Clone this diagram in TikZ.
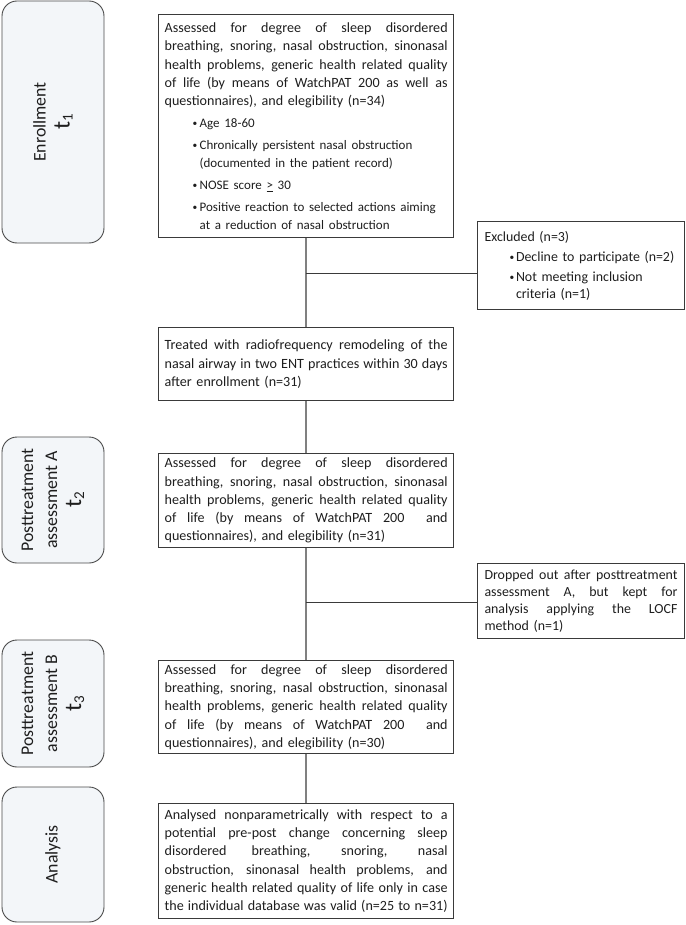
\documentclass[tikz,border=0pt]{standalone}
\usepackage{fontspec}
\setmainfont{Carlito}
\definecolor{txt}{HTML}{1E1E1E}
\definecolor{boxline}{HTML}{3A3A3A}
\definecolor{lfill}{HTML}{F3F6F9}
\definecolor{lline}{HTML}{4A4A4A}
\definecolor{vline}{HTML}{808080}
\newcommand\J[1]{\leavevmode\hbox to 283pt{\spaceskip=0.226em plus 1fil minus 0.06em\relax #1}}
\newcommand\JS[1]{\leavevmode\hbox to 193pt{\spaceskip=0.226em plus 1fil minus 0.06em\relax #1}}
\newcommand\bulsym{\raisebox{1pt}{\fontsize{9.5}{9.5}\selectfont\textbullet}}
\newcommand\Bul[1]{\mbox{\hspace*{28pt}\makebox[7pt][l]{\bulsym}{\fontsize{13}{18.3}\selectfont #1}}}
\newcommand\Ind[1]{\mbox{\hspace*{35pt}{\fontsize{13}{18.3}\selectfont #1}}}
\newcommand\XBul[1]{\mbox{\hspace*{25pt}\makebox[6.5pt][l]{\bulsym}#1}}
\newcommand\XInd[1]{\mbox{\hspace*{31.5pt}#1}}
\newcommand\tsub[1]{{\fontsize{24}{24}\selectfont t}\raisebox{-3pt}{\fontsize{15}{15}\selectfont #1}}
\begin{document}
\begin{tikzpicture}[x=1pt,y=1pt,
  phase/.style={draw=lline, line width=0.9pt, fill=lfill, rounded corners=15pt,
    rotate=90, align=center, text=txt, inner sep=0pt,
    font=\fontsize{17.8}{24}\selectfont},
  mainbox/.style={draw=boxline, line width=1.3pt, anchor=north west,
    inner xsep=6pt, inner ysep=0pt, text width=283pt, align=left, text=txt,
    font=\fontsize{14.1}{18.3}\selectfont},
  sidebox/.style={draw=boxline, line width=1pt, anchor=north west,
    inner xsep=7pt, inner ysep=0pt, text width=193pt, align=left, text=txt,
    font=\fontsize{13.9}{17}\selectfont},
  flow/.style={draw=vline, line width=1.4pt},
  branch/.style={draw=boxline, line width=0.9pt}]
\useasboundingbox (0,0) rectangle (685,-925);

% phase labels
\node[phase, minimum width=242pt, minimum height=102pt] (pe) at (53,-122) {Enrollment\\\tsub{1}};
\node[phase, minimum width=126pt, minimum height=102pt] (pa) at (53,-500) {Posttreatment\\assessment A\\\tsub{2}};
\node[phase, minimum width=127pt, minimum height=102pt] (pb) at (53,-703.5) {Posttreatment\\assessment B\\\tsub{3}};
\node[phase, minimum width=135pt, minimum height=102pt] (pn) at (53,-854.5) {Analysis};

% main boxes
\node[mainbox, minimum height=223pt] (b1) at (158,-14) {%
\J{Assessed for degree of sleep disordered}\\
\J{breathing, snoring, nasal obstruction, sinonasal}\\
\J{health problems, generic health related quality}\\
\J{of life (by means of WatchPAT 200 as well as}\\
questionnaires), and elegibility (n=34)\\[3.5pt]
\Bul{Age 18-60}\\[3.5pt]
\Bul{Chronically persistent nasal obstruction}\\
\Ind{(documented in the patient record)}\\[3.5pt]
\Bul{NOSE score \underline{>} 30}\\[3.5pt]
\Bul{Positive reaction to selected actions aiming}\\
\Ind{at a reduction of nasal obstruction}};

\node[mainbox, minimum height=73pt] (b2) at (158,-327) {%
\J{Treated with radiofrequency remodeling of the}\\
\J{nasal airway in two ENT practices within 30 days}\\
after enrollment (n=31)};

\node[mainbox, minimum height=94pt] (b3) at (158,-453) {%
\J{Assessed for degree of sleep disordered}\\
\J{breathing, snoring, nasal obstruction, sinonasal}\\
\J{health problems, generic health related quality}\\
\J{of life (by means of WatchPAT 200 \ and}\\
questionnaires), and elegibility (n=31)};

\node[mainbox, minimum height=93pt] (b4) at (158,-660) {%
\J{Assessed for degree of sleep disordered}\\
\J{breathing, snoring, nasal obstruction, sinonasal}\\
\J{health problems, generic health related quality}\\
\J{of life (by means of WatchPAT 200 \ and}\\
questionnaires), and elegibility (n=30)};

\node[mainbox, minimum height=115pt] (b5) at (158,-803) {%
\J{Analysed nonparametrically with respect to a}\\
\J{potential pre-post change concerning sleep}\\
\J{disordered breathing, snoring, nasal}\\
\J{obstruction, sinonasal health problems, and}\\
\J{generic health related quality of life only in case}\\
\J{the individual database was valid (n=25 to n=31)}};

% side boxes
\node[sidebox, minimum height=88pt] (ex) at (477,-221) {%
Excluded (n=3)\\[3pt]
\XBul{Decline to participate (n=2)}\\[3pt]
\XBul{Not meeting inclusion}\\
\XInd{criteria (n=1)}};

\node[sidebox, minimum height=75pt] (dr) at (477,-563) {%
\JS{Dropped out after posttreatment}\\
\JS{assessment A, but kept for}\\
\JS{analysis applying the LOCF}\\
method (n=1)};

% connectors
\draw[flow] (b1.south) -- (b2.north);
\draw[flow] (b2.south) -- (b3.north);
\draw[flow] (b3.south) -- (b4.north);
\draw[flow] (b4.south) -- (b5.north);
\coordinate (j1) at (b1.south |- 0,-273);
\coordinate (j2) at (b3.south |- 0,-602);
\draw[branch] (j1) -- (j1 -| ex.west);
\draw[branch] (j2) -- (j2 -| dr.west);
\end{tikzpicture}
\end{document}
